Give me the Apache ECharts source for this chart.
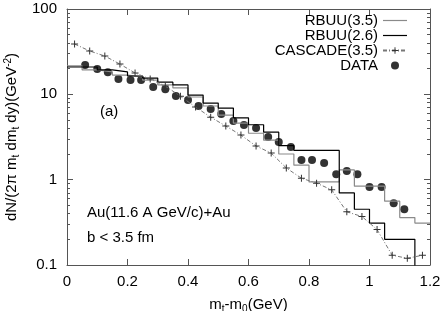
<!DOCTYPE html>
<html><head><meta charset="utf-8">
<script src="https://cdn.jsdelivr.net/npm/echarts@6/dist/echarts.min.js"></script>
<style>html,body{margin:0;padding:0;background:#fff}#c{width:443px;height:311px}</style>
</head><body><div id="c"></div>
<script>
// ---- data ----
var dataX = [0.06,0.10,0.135,0.17,0.21,0.245,0.285,0.325,0.36,0.40,0.435,0.475,0.51,0.55,0.585,0.625,0.665,0.70,0.74,0.775,0.81,0.85,0.89,0.925,0.96,1.00,1.04,1.08,1.115];
var dataY = [22,19.8,18.2,15.1,14.7,14.7,12.2,11.5,9.55,8.57,7.29,6.72,5.88,4.87,4.37,4.03,3.16,2.76,2.41,1.70,1.70,1.57,1.16,1.26,1.16,0.82,0.82,0.53,0.45];

var cascadeX = [0.025,0.075,0.125,0.175,0.225,0.275,0.325,0.375,0.425,0.475,0.525,0.575,0.625,0.675,0.725,0.775,0.825,0.875,0.925,0.975,1.025,1.075,1.125,1.175];
var cascadeY = [38.9,32.2,28.1,22.6,17.8,15.1,12.5,9.5,7.1,5.4,4.25,3.33,2.48,2.05,1.37,1.04,0.91,0.76,0.42,0.37,0.26,0.13,0.12,0.13];

// histogram bin edges (width 0.05) and contents
var binEdges = [0,0.05,0.1,0.15,0.2,0.25,0.3,0.35,0.4,0.45,0.5,0.55,0.6,0.65,0.7,0.75,0.8,0.85,0.9,0.95,1.0,1.05,1.1,1.15,1.2];
var rbuu35 = [21.5,19.3,18.3,16.8,16.0,14.7,12.9,11.9,9.3,7.3,5.7,4.6,3.5,2.9,2.0,1.48,0.94,0.94,1.30,0.84,0.84,0.56,0.36,0.31];
var rbuu26 = [20.9,20.9,19.3,18.3,16.4,15.5,13.9,12.9,9.8,7.9,6.9,5.3,4.4,3.6,2.5,2.2,2.2,2.2,0.70,0.45,0.31,0.20,0.20,0.05];

var yMajor = [0.1,1,10,100];

// ---- helpers ----
function pairs(xs, ys){ return xs.map(function(x,i){ return [x, ys[i]]; }); }
function hist(edges, vals){
  var d = vals.map(function(v,i){ return [edges[i], v]; });
  d.push([edges[edges.length-1], vals[vals.length-1]]);
  return d;
}
var yMinor = [];
for (var e = -1; e < 2; e++) { for (var k = 2; k <= 9; k++) { yMinor.push(+(k*Math.pow(10,e)).toPrecision(3)); } }

var FONT = 'Liberation Sans';
var AX = '#555';
var chart = echarts.init(document.getElementById('c'), null, {renderer:'canvas'});
var crossPath = 'path://M3,0 L4,0 L4,3 L7,3 L7,4 L4,4 L4,7 L3,7 L3,4 L0,4 L0,3 L3,3 Z';
var lineIcon = 'path://M0,0 L24,0 L24,1.2 L0,1.2 Z';

function yAxisBase(pos, ticks, len, showLine, showLabel){
  return {
    type:'log', logBase:10, min:0.1, max:100, position:pos,
    axisLine:{show:showLine, lineStyle:{color:AX, width:1}},
    axisTick:{show:true, inside:true, length:len, customValues:ticks, lineStyle:{color:AX}},
    axisLabel:{show:showLabel, customValues:yMajor, color:'#000', fontFamily:FONT, fontSize:15, margin:10},
    splitLine:{show:false}, minorTick:{show:false}
  };
}

chart.setOption({
  animation:false,
  backgroundColor:'#fff',
  textStyle:{fontFamily:FONT},
  grid:{left:67, right:13, top:9, bottom:46, containLabel:false, outerBoundsMode:'none'},
  legend:{
    orient:'vertical', right:30, top:8, align:'right', itemWidth:24, itemHeight:8, itemGap:0,
    symbolKeepAspect:true,
    textStyle:{fontFamily:FONT, fontSize:15, color:'#000', lineHeight:14.5},
    data:[{name:'RBUU(3.5)', icon:lineIcon},{name:'RBUU(2.6)', icon:lineIcon},'CASCADE(3.5)',{name:'DATA', icon:'circle'}]
  },
  xAxis:[
    {type:'value', min:0, max:1.2, interval:0.2, position:'bottom',
     name:'{m|m}{s|t}{m|-m}{s|0}{m|(GeV)}', nameLocation:'middle', nameGap:31,
     nameTextStyle:{rich:{m:{fontSize:15, fontFamily:FONT, color:'#000', lineHeight:18}, s:{fontSize:10, fontFamily:FONT, color:'#000', lineHeight:10, verticalAlign:'bottom'}}},
     axisLine:{lineStyle:{color:AX}}, axisTick:{inside:true, length:6, lineStyle:{color:AX}},
     axisLabel:{color:'#000', fontFamily:FONT, fontSize:15, margin:9, formatter:function(v){ return String(+v.toFixed(1)); }},
     splitLine:{show:false}},
    {type:'value', min:0, max:1.2, interval:0.2, position:'top',
     axisLine:{lineStyle:{color:AX}}, axisTick:{inside:true, length:6, lineStyle:{color:AX}},
     axisLabel:{show:false}, splitLine:{show:false}}
  ],
  yAxis:[
    Object.assign(yAxisBase('left', yMajor, 6, true, true), {
      name:'{m|dN/(2π m}{s|t}{m| dm}{s|t}{m| dy)(GeV}{u|-2}{m|)}', nameLocation:'middle', nameGap:46, nameRotate:90,
      nameTextStyle:{rich:{m:{fontSize:15, fontFamily:FONT, color:'#000', lineHeight:18}, s:{fontSize:10, fontFamily:FONT, color:'#000', lineHeight:10, verticalAlign:'bottom'}, u:{fontSize:10, fontFamily:FONT, color:'#000', lineHeight:10, verticalAlign:'top'}}}
    }),
    yAxisBase('left', yMinor, 3, false, false),
    yAxisBase('right', yMajor, 6, true, false),
    yAxisBase('right', yMinor, 3, false, false)
  ],
  series:[
    {name:'RBUU(3.5)', type:'line', step:'end', data:hist(binEdges, rbuu35), showSymbol:false, symbol:'none',
     lineStyle:{color:'#8a8a8a', width:1.2}, itemStyle:{color:'#8a8a8a'}, clip:true},
    {name:'RBUU(2.6)', type:'line', step:'end', data:hist(binEdges, rbuu26), showSymbol:false, symbol:'none',
     lineStyle:{color:'#000', width:1.2}, itemStyle:{color:'#000'}, clip:true},
    {name:'CASCADE(3.5)', type:'line', data:pairs(cascadeX, cascadeY), symbol:crossPath, symbolSize:7,
     lineStyle:{color:'#777', width:1, type:[4,2,1,2]}, itemStyle:{color:'#333'}, clip:true},
    {name:'DATA', type:'scatter', data:pairs(dataX, dataY), symbol:'circle', symbolSize:8,
     itemStyle:{color:'#000'}}
  ],
  graphic:[
    {type:'text', left:100, top:104, style:{text:'(a)', font:'15px "Liberation Sans"', fill:'#000'}},
    {type:'text', left:87, top:205, style:{text:'Au(11.6 A GeV/c)+Au', font:'15px "Liberation Sans"', fill:'#000'}},
    {type:'text', left:87, top:230, style:{text:'b < 3.5 fm', font:'15px "Liberation Sans"', fill:'#000'}}
  ]
});
</script></body></html>
